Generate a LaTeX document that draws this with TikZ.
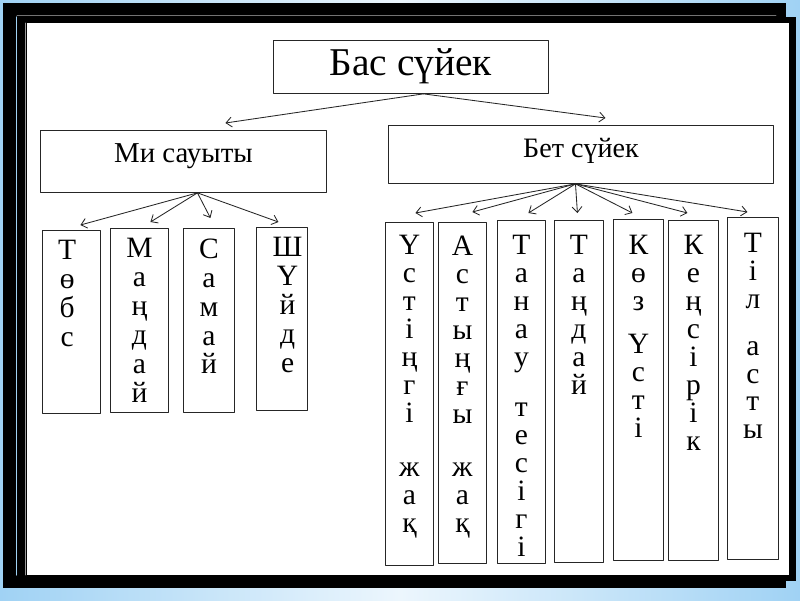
\documentclass[tikz,border=0pt]{standalone}
\usepackage{fontspec}
\setmainfont{Liberation Serif}
\usetikzlibrary{positioning,arrows.meta}

\definecolor{skyedge}{RGB}{160,210,244}
\definecolor{skypale}{RGB}{236,246,253}

\tikzset{
  bone/.style={draw=black!85, line width=0.6pt, inner sep=0pt, anchor=north west},
  letters/.style={align=center, text width=0.9cm, inner sep=0pt, font=\fontsize{21}{#1}\selectfont},
  letters/.default=19.9pt,
  arr/.style={draw=black!85, line width=0.6pt, -{Straight Barb[length=4pt,width=7pt]}}
}

\begin{document}
\begin{tikzpicture}[x=0.025cm, y=-0.025cm, line cap=round, line join=round]

    % ==========================================
    % 1. Background and frame
    % ==========================================
    \useasboundingbox (0,0) rectangle (800,600);
    \shade[left color=skyedge, right color=skyedge, middle color=skypale] (0,0) rectangle (800,600);
    \fill[black] (3,3) rectangle (786,588);
    \fill[black] (17,17) rectangle (796,581);
    \draw[skyedge, line width=0.8pt] (16.5,17) -- (16.5,575);
    \draw[black!55, line width=0.6pt] (17,15) -- (776,15);
    \fill[white] (27,23) rectangle (789,575);
    \draw[black!40, line width=0.4pt] (25.5,23) -- (25.5,575);

    % ==========================================
    % 2. Head boxes
    % ==========================================
    \node[bone, minimum width=6.875cm, minimum height=1.325cm,
          font=\fontsize{28}{28}\selectfont, text height=18.5pt, text depth=6pt] (bas) at (273,40) {Бас сүйек};
    \node[bone, minimum width=7.15cm, minimum height=1.55cm,
          font=\fontsize{20.5}{20.5}\selectfont, text height=13.6pt, text depth=12pt] (mi) at (40,130) {Ми сауыты};
    \node[bone, minimum width=9.625cm, minimum height=1.45cm,
          font=\fontsize{20}{20}\selectfont, text height=13.2pt, text depth=9.2pt] (bet) at (388,125) {Бет сүйек};

    \coordinate (basfoot) at ([shift={(12.5,0)}]bas.south);
    \coordinate (mifoot) at ([shift={(14,0)}]mi.south);
    \coordinate (betfoot) at ([shift={(-5.5,0)}]bet.south);

    \draw[arr] (basfoot) -- ([shift={(42,-7)}]mi.north);
    \draw[arr] (basfoot) -- ([shift={(24.5,-7)}]bet.north);

    % ==========================================
    % 3. Bones of the cranium (Ми сауыты)
    % ==========================================
    \node[bone, minimum width=1.45cm, minimum height=4.575cm] (tobe) at (42,230) {};
    \node[bone, minimum width=1.45cm, minimum height=4.6cm] (mandai) at (110,228) {};
    \node[bone, minimum width=1.275cm, minimum height=4.6cm] (samai) at (183,228) {};
    \node[bone, minimum width=1.275cm, minimum height=4.575cm] (shuide) at (256,227) {};

    \node[letters=20.6pt, below=7.3pt of tobe.north, xshift=-3pt] (tobetxt) {Т\\ө\\б\\с};
    \node[letters=20.6pt, below=7.3pt of mandai.north] (mandaitxt) {М\\а\\ң\\д\\а\\й};
    \node[letters=20.6pt, below=7.3pt of samai.north] (samaitxt) {С\\а\\м\\а\\й};
    \node[letters=20.6pt, below=7.3pt of shuide.north, xshift=4pt] (shuidetxt) {Ш\\Ү\\й\\д\\е};

    \draw[arr] (mifoot) -- ([shift={(9,-5)}]tobe.north);
    \draw[arr] (mifoot) -- ([shift={(11,-6)}]mandai.north);
    \draw[arr] (mifoot) -- ([shift={(1.5,-10)}]samai.north);
    \draw[arr] (mifoot) -- ([shift={(-3.5,-5)}]shuide.north);

    % ==========================================
    % 4. Bones of the face (Бет сүйек)
    % ==========================================
    \node[bone, minimum width=1.2cm, minimum height=8.575cm] (ustjak) at (385,222) {};
    \node[bone, minimum width=1.2cm, minimum height=8.525cm] (astjak) at (438,222) {};
    \node[bone, minimum width=1.2cm, minimum height=8.575cm] (tanau) at (497,220) {};
    \node[bone, minimum width=1.225cm, minimum height=8.55cm] (tandai) at (554,220) {};
    \node[bone, minimum width=1.25cm, minimum height=8.525cm] (koz) at (613,219) {};
    \node[bone, minimum width=1.25cm, minimum height=8.5cm] (kensir) at (668,220) {};
    \node[bone, minimum width=1.275cm, minimum height=8.55cm] (til) at (727,217) {};

    \node[letters, below=9.5pt of ustjak.north] (ustjaktxt) {Ү\\с\\т\\і\\ң\\г\\і\\[18pt]ж\\а\\қ};
    \node[letters, below=9.5pt of astjak.north] (astjaktxt) {А\\с\\т\\ы\\ң\\ғ\\ы\\[18pt]ж\\а\\қ};
    \node[letters, below=10.5pt of tanau.north] (tanautxt) {Т\\а\\н\\а\\у\\[16pt]т\\е\\с\\і\\г\\і};
    \node[letters, below=10.5pt of tandai.north] (tandaitxt) {Т\\а\\ң\\д\\а\\й};
    \node[letters, below=11pt of koz.north] (koztxt) {К\\ө\\з\\[11pt]Ү\\с\\т\\і};
    \node[letters, below=10.5pt of kensir.north] (kensirtxt) {К\\е\\ң\\с\\і\\р\\і\\к};
    \node[letters, below=11.5pt of til.north] (tiltxt) {Т\\і\\л\\[13pt]а\\с\\т\\ы};

    \draw[arr] (betfoot) -- ([shift={(6,-9)}]ustjak.north);
    \draw[arr] (betfoot) -- ([shift={(10,-10)}]astjak.north);
    \draw[arr] (betfoot) -- ([shift={(7,-7)}]tanau.north);
    \draw[arr] (betfoot) -- ([shift={(-1.5,-7)}]tandai.north);
    \draw[arr] (betfoot) -- ([shift={(-6,-6)}]koz.north);
    \draw[arr] (betfoot) -- ([shift={(-6,-7)}]kensir.north);
    \draw[arr] (betfoot) -- ([shift={(-5.5,-5)}]til.north);

\end{tikzpicture}
\end{document}
